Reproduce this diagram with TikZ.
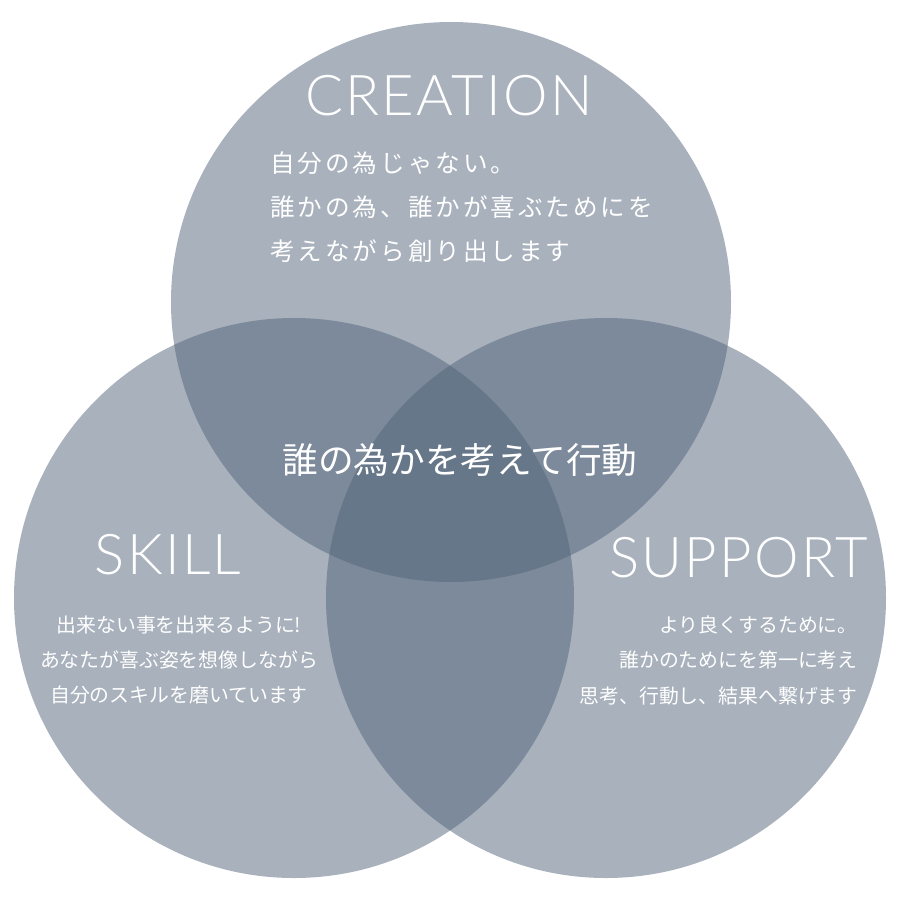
\documentclass[tikz,border=0pt]{standalone}
\usepackage{fontspec}
\usepackage{xcolor}
\usepackage{tikz}
\usetikzlibrary{positioning}
\newfontfamily\jpfont{Noto Sans CJK JP}
\newfontfamily\titlefont{Lato Light}[LetterSpace=4]
\definecolor{vennblue}{RGB}{83,101,123}

\begin{document}
\begin{tikzpicture}[x=0.02cm, y=-0.02cm, every node/.style={text=white, inner sep=0pt},
  venn/.style={fill=vennblue, fill opacity=0.5},
  title/.style={font=\titlefont\fontsize{32}{32}\selectfont},
  topbody/.style={font=\jpfont\fontsize{14}{25}\selectfont\addfontfeature{LetterSpace=12}, align=left},
  sidebody/.style={font=\jpfont\fontsize{11.3}{20.2}\selectfont}]
  \fill[white] (0,0) rectangle (900,900);
  \useasboundingbox (0,0) rectangle (900,900);

  \coordinate (ctop) at (451,302);
  \coordinate (cleft) at (294,598);
  \coordinate (cright) at (606,598);
  \fill[venn] (ctop) circle (280);
  \fill[venn] (cleft) circle (280);
  \fill[venn] (cright) circle (280);

  \node[title] (creation) at (449,96) {CREATION};
  \node[title] (skill) at (168,555) {SKILL};
  \node[title] (support) at (739,558) {SUPPORT};

  \node[topbody, anchor=west] (creationtxt) at (270,207)
    {自分の為じゃない。\\誰かの為、誰かが喜ぶためにを\\考えながら創り出します};
  \node[sidebody, align=center] (skilltxt) at (179,660)
    {出来ない事を出来るように!\\あなたが喜ぶ姿を想像しながら\\自分のスキルを磨いています};
  \node[sidebody, align=right, anchor=east] (supporttxt) at (858,660)
    {より良くするために。\\誰かのためにを第一に考え\\思考、行動し、結果へ繋げます};

  \node[font=\jpfont\fontsize{20.3}{20}\selectfont] (core) at (460,460) {誰の為かを考えて行動};
\end{tikzpicture}
\end{document}
